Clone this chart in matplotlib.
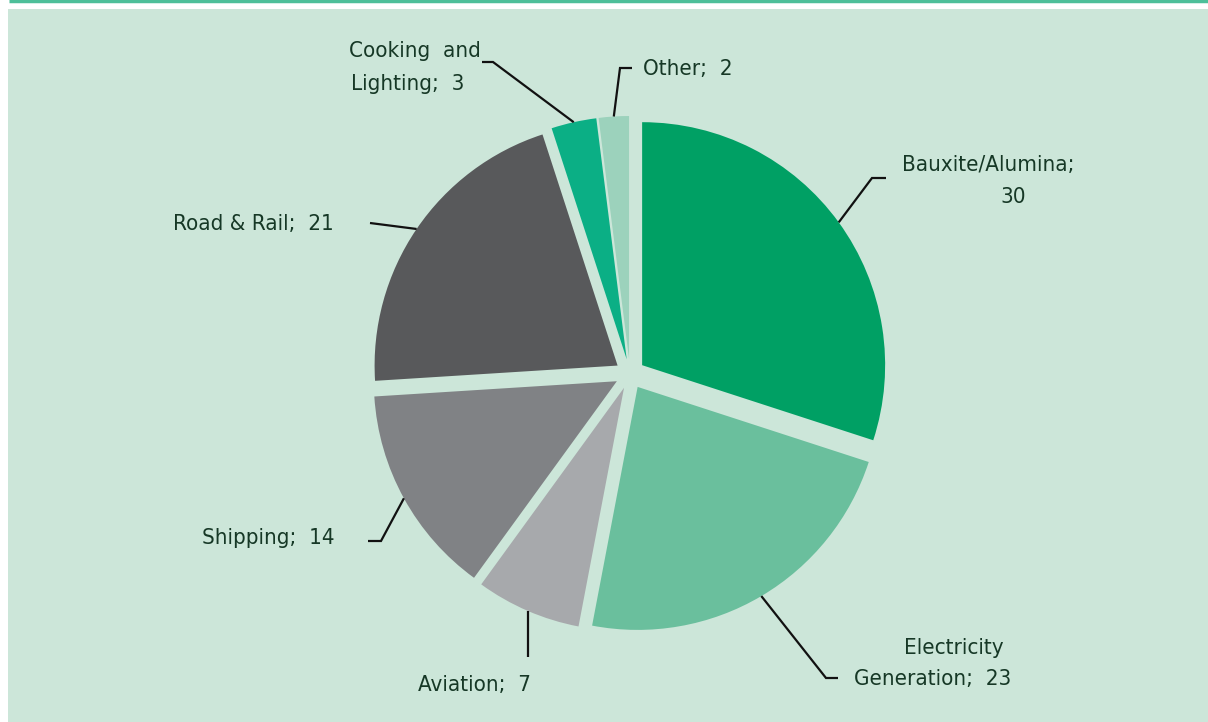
import numpy as np
import matplotlib.pyplot as plt
from matplotlib.patches import Rectangle

labels = ["Bauxite/Alumina", "Electricity Generation", "Aviation", "Shipping",
          "Road & Rail", "Cooking and Lighting", "Other"]
values = [30, 23, 7, 14, 21, 3, 2]
colors = ["#00A064", "#6ABF9D", "#A7A9AC", "#808285", "#58595B", "#0BAF85", "#9CD2BC"]

W, H = 1208, 722
bg = "#CCE6D9"
txt_col = "#163826"

def px(x, y):
    # pixel coords (top-left origin) -> data coords
    return (x, H - y)

# label layout: text lines (x, y, ha), elbow point, line end (pixel coords)
# elbow None -> straight vertical line from the wedge
layout = {
    "Bauxite/Alumina": dict(text=[("Bauxite/Alumina;", 902, 165, "left"), ("30", 1013, 197, "center")],
                            elbow=(872, 178), end=(886, 178)),
    "Electricity Generation": dict(text=[("Electricity", 1004, 648, "right"), ("Generation;  23", 854, 679, "left")],
                                   elbow=(826, 678), end=(838, 678)),
    "Aviation": dict(text=[("Aviation;  7", 418, 685, "left")], elbow=None, end=657),
    "Shipping": dict(text=[("Shipping;  14", 335, 538, "right")], elbow=(381, 541), end=(368, 541)),
    "Road & Rail": dict(text=[("Road & Rail;  21", 334, 224, "right")], elbow=(370, 223), end=(370, 223)),
    "Cooking and Lighting": dict(text=[("Cooking  and", 349, 51, "left"), ("Lighting;  3", 351, 84, "left")],
                                 elbow=(493, 62), end=(482, 62)),
    "Other": dict(text=[("Other;  2", 643, 69, "left")], elbow=(620, 68), end=(632, 68)),
}

plt.rcParams['font.family'] = ['DejaVu Sans']

fig = plt.figure(figsize=(W / 100, H / 100), dpi=100, facecolor="white")
ax = fig.add_axes([0, 0, 1, 1])

ax.add_patch(Rectangle(px(8, H), W - 8, H - 9, facecolor=bg, edgecolor="none", zorder=0))
ax.plot([9, W], [H - 1, H - 1], color="#4DBF99", lw=2.5, zorder=1, solid_capstyle="butt")

radius = 243
center = px(630, 374)
explode = [15] * len(values)   # pie offsets are in data units here
wedges, _ = ax.pie(values, colors=colors, startangle=90, counterclock=False,
                   radius=radius, center=center, explode=explode,
                   wedgeprops=dict(edgecolor="none", linewidth=0), frame=True)
ax.set_xlim(0, W)
ax.set_ylim(0, H)
ax.set_aspect("equal")
ax.axis("off")

for w, lab in zip(wedges, labels):
    mid = np.deg2rad((w.theta1 + w.theta2) / 2)
    cx, cy = w.center
    x0, y0 = cx + w.r * np.cos(mid), cy + w.r * np.sin(mid)
    L = layout[lab]
    if L["elbow"] is None:
        xs, ys = [x0, x0], [y0, H - L["end"]]
    else:
        ex, ey = px(*L["elbow"])
        fx, fy = px(*L["end"])
        xs, ys = [x0, ex, fx], [y0, ey, fy]
    ax.plot(xs, ys, color="#111111", lw=1.6, zorder=3,
            solid_capstyle="butt", solid_joinstyle="miter")
    for s, tx, ty, ha in L["text"]:
        ax.text(*px(tx, ty), s, ha=ha, va="center", fontsize=16, fontstretch="condensed",
                color=txt_col, zorder=4)

fig.savefig("out.png", dpi=100, facecolor="white")
